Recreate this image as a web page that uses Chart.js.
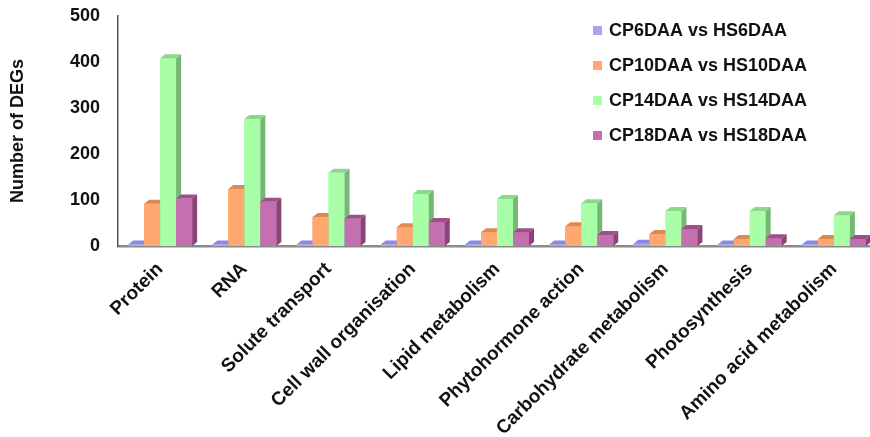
<!DOCTYPE html>
<html>
<head>
<meta charset="utf-8">
<script src="https://cdn.jsdelivr.net/npm/chart.js@4"></script>
<style>
  html, body { margin: 0; padding: 0; overflow: hidden; background: #fff; }
  #wrap { width: 880px; height: 437px; }
</style>
</head>
<body>
<div id="wrap"><canvas id="degChart" width="880" height="437"></canvas></div>
<script>
const categories = ['Protein', 'RNA', 'Solute transport', 'Cell wall organisation', 'Lipid metabolism',
  'Phytohormone action', 'Carbohydrate metabolism', 'Photosynthesis', 'Amino acid metabolism'];
const seriesLabels = ['CP6DAA vs HS6DAA', 'CP10DAA vs HS10DAA', 'CP14DAA vs HS14DAA', 'CP18DAA vs HS18DAA'];
const cp6 = [3, 3, 3, 3, 3, 3, 5, 3, 3];
const cp10 = [92, 124, 63, 41, 30, 43, 26, 15, 15];
const cp14 = [408, 276, 159, 113, 102, 93, 76, 76, 67];
const cp18 = [103, 96, 59, 52, 30, 24, 37, 17, 15];
const yTicks = [0, 100, 200, 300, 400, 500];

// front / top / side shades for the fake 3D look
const faces = [
  { front: '#A6A6F2', top: '#8A8AE0', side: '#7B7BC8' },
  { front: '#FFA970', top: '#D98A55', side: '#C47B4C' },
  { front: '#A8FFA8', top: '#8ED88E', side: '#74B874' },
  { front: '#C46FAE', top: '#9E4F88', side: '#8A4478' }
];
const depthX = 5, depthY = 4;
const boldFont = '"Liberation Sans", Arial, sans-serif';

function poly(ctx, pts, color) {
  ctx.beginPath();
  ctx.moveTo(pts[0][0], pts[0][1]);
  for (let k = 1; k < pts.length; k++) ctx.lineTo(pts[k][0], pts[k][1]);
  ctx.closePath();
  ctx.fillStyle = color;
  ctx.fill();
}

const bars3d = {
  id: 'bars3d',
  afterDatasetsDraw(chart) {
    const ctx = chart.ctx;
    const metas = chart.data.datasets.map((d, i) => chart.getDatasetMeta(i));
    ctx.save();
    for (let j = 0; j < categories.length; j++) {
      metas.forEach((meta, i) => {
        const bar = meta.data[j];
        const { x, y, base, width } = bar.getProps(['x', 'y', 'base', 'width'], true);
        const l = x - width / 2, r = x + width / 2;
        const c = faces[i];
        ctx.fillStyle = c.front;
        ctx.fillRect(l, y, width, base - y);
        poly(ctx, [[r, y], [r + depthX, y - depthY], [r + depthX, base - depthY], [r, base]], c.side);
        poly(ctx, [[l, y], [l + depthX, y - depthY], [r + depthX, y - depthY], [r, y]], c.top);
      });
    }
    ctx.restore();
  }
};

const sideLegend = {
  id: 'sideLegend',
  afterDraw(chart) {
    const ctx = chart.ctx;
    ctx.save();
    ctx.font = 'bold 18px ' + boldFont;
    ctx.textBaseline = 'middle';
    ctx.textAlign = 'left';
    chart.data.datasets.forEach((ds, i) => {
      const cy = 31 + i * 35;
      ctx.fillStyle = faces[i].front;
      ctx.fillRect(593, cy - 5, 9, 9);
      ctx.fillStyle = '#111';
      ctx.fillText(ds.label, 609, cy);
    });
    ctx.restore();
  }
};

const ctx = document.getElementById('degChart');
const myChart = new Chart(ctx, {
  type: 'bar',
  data: {
    labels: categories,
    datasets: [cp6, cp10, cp14, cp18].map((vals, i) => ({
      label: seriesLabels[i],
      data: vals,
      backgroundColor: faces[i].front,
      borderWidth: 0,
      barPercentage: 1.0,
      categoryPercentage: 0.76
    }))
  },
  options: {
    responsive: false,
    animation: false,
    devicePixelRatio: 1,
    layout: { padding: { top: 16, right: 4, left: 0, bottom: 0 } },
    plugins: {
      legend: { display: false },
      tooltip: { enabled: false }
    },
    scales: {
      x: {
        grid: { display: false, drawTicks: false },
        border: { display: true, color: '#8a8a8a', width: 2.5 },
        ticks: {
          autoSkip: false,
          minRotation: 45,
          maxRotation: 45,
          padding: 12,
          color: '#111',
          font: { family: boldFont, size: 19, weight: 'bold' }
        },
        afterFit(scale) { scale.height = 191; }
      },
      y: {
        min: 0,
        max: 500,
        afterBuildTicks(scale) { scale.ticks = yTicks.map(v => ({ value: v })); },
        grid: { display: false, drawTicks: false },
        border: { display: true, color: '#555', width: 1.5 },
        ticks: {
          padding: 18,
          color: '#111',
          font: { family: boldFont, size: 18, weight: 'bold' }
        },
        title: {
          display: true,
          text: 'Number of DEGs',
          color: '#111',
          padding: { top: 7, bottom: 0 },
          font: { family: boldFont, size: 18, weight: 'bold' }
        },
        afterFit(scale) {
          scale.width = 118;
          // tick padding would otherwise push the plot top down
          scale.paddingTop = 0;
          scale.paddingBottom = 0;
        }
      }
    }
  },
  plugins: [bars3d, sideLegend]
});
</script>
</body>
</html>
